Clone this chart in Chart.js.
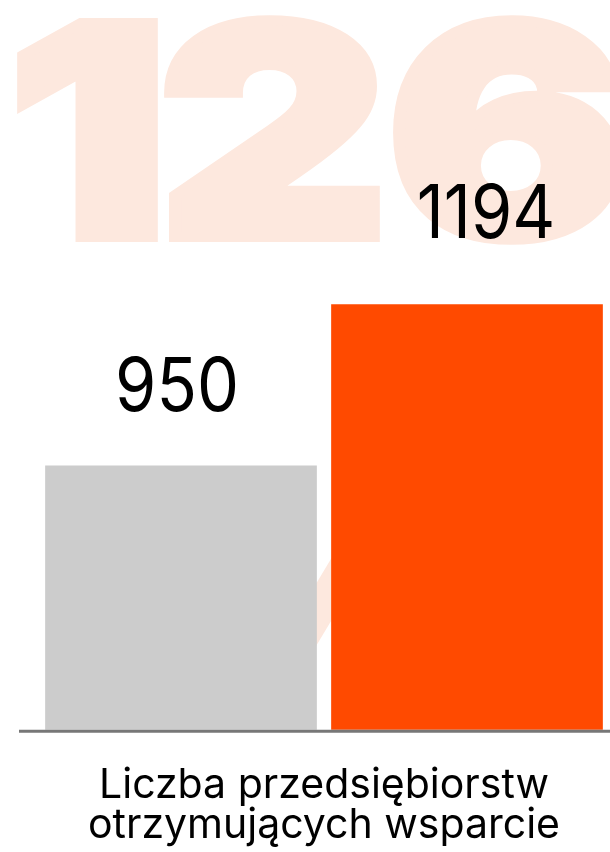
<!DOCTYPE html>
<html>
<head>
<meta charset="utf-8">
<script src="https://cdn.jsdelivr.net/npm/chart.js@4.4.0/dist/chart.umd.min.js"></script>
<style>
	html, body { margin: 0; padding: 0; background: #fff; overflow: hidden; }
	#wrap { width: 610px; height: 852px; position: relative; }
</style>
</head>
<body>
<div id="wrap"><canvas id="chart"></canvas></div>
<script>
// data
var categories = ['Wcześniej', 'Obecnie'];
var values = [950, 1194];
var bar_colors = ['#cccccc', '#ff4a00'];
var axis_title = ['Liczba przedsiębiorstw', 'otrzymujących wsparcie'];
var big_number = ['1', '2', '6'];

// faded big number behind the bars
var backdrop = {
	id: 'backdrop',
	beforeDraw: function(chart) {
		var ctx = chart.ctx;
		var centers = [88, 273, 507];
		ctx.save();
		ctx.fillStyle = '#fde8de';
		ctx.strokeStyle = '#fde8de';
		ctx.lineWidth = 10;
		ctx.textAlign = 'center';
		ctx.textBaseline = 'alphabetic';
		ctx.font = '900 294px Inter, Roboto';
		big_number.forEach(function(ch, i) {
			ctx.save();
			ctx.translate(centers[i], 237);
			ctx.scale(1.21, 1);
			ctx.fillText(ch, 0, 0);
			ctx.strokeText(ch, 0, 0);
			ctx.restore();
		});
		// slash of the percent sign, mostly hidden behind the bars
		ctx.lineWidth = 32;
		ctx.beginPath();
		ctx.moveTo(265, 700);
		ctx.lineTo(385, 500);
		ctx.stroke();
		ctx.restore();
	}
};

// value labels and the base line
var label_dx = [-4, 19];
var label_dy = [54, 66];
var labels_and_base = {
	id: 'labels_and_base',
	afterDatasetsDraw: function(chart) {
		var ctx = chart.ctx;
		var meta = chart.getDatasetMeta(0);
		ctx.save();
		ctx.fillStyle = '#000';
		ctx.textAlign = 'center';
		ctx.textBaseline = 'alphabetic';
		ctx.font = '400 74px Inter';
		meta.data.forEach(function(bar, i) {
			ctx.save();
			ctx.translate(bar.x + label_dx[i], bar.y - label_dy[i]);
			ctx.scale(0.9, 1);
			ctx.fillText(String(values[i]), 0, 0);
			ctx.restore();
		});
		var y = chart.chartArea.bottom + 1.5;
		ctx.strokeStyle = '#777777';
		ctx.lineWidth = 3;
		ctx.beginPath();
		ctx.moveTo(19, y);
		ctx.lineTo(chart.width, y);
		ctx.stroke();
		ctx.restore();
	}
};

var chart = new Chart(document.getElementById('chart'), {
	type: 'bar',
	data: {
		labels: categories,
		datasets: [{
			data: values,
			backgroundColor: bar_colors,
			borderWidth: 0,
			barPercentage: 0.95,
			categoryPercentage: 1
		}]
	},
	options: {
		responsive: true,
		maintainAspectRatio: false,
		animation: false,
		layout: { padding: { left: 38, right: 0, top: 3, bottom: 0 } },
		plugins: {
			legend: { display: false },
			tooltip: { enabled: false }
		},
		scales: {
			x: {
				grid: { display: false },
				border: { display: false },
				ticks: { display: false },
				title: {
					display: true,
					text: axis_title,
					color: '#000',
					font: { family: 'Inter', size: 41, weight: '400', lineHeight: 0.98 },
					padding: { top: 28, bottom: 6 }
				}
			},
			y: {
				display: false,
				min: 550,
				max: 1650
			}
		}
	},
	plugins: [backdrop, labels_and_base]
});
</script>
</body>
</html>
